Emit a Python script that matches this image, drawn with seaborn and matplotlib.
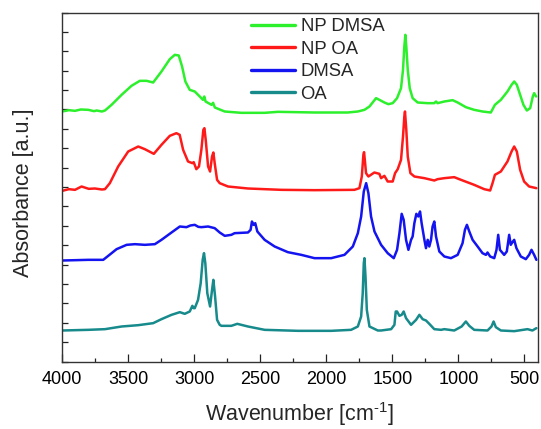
import numpy as np
import pandas as pd
import matplotlib
matplotlib.use('Agg')
import matplotlib.pyplot as plt
import seaborn as sns

series_names = ['NP DMSA', 'NP OA', 'DMSA', 'OA']
series_colors = ['#2bf02b', '#ff1a1a', '#1414f0', '#178a8c']

np_dmsa_wn = [4000, 3950, 3904, 3860, 3803, 3760, 3740, 3700, 3677, 3627, 3551, 3476, 3413, 3362,
              3312, 3249, 3186, 3148, 3118, 3093, 3068, 3035, 2997, 2954, 2935, 2925, 2915, 2870,
              2858, 2845, 2770, 2644, 2468, 2367, 2090, 1838, 1762, 1712, 1674, 1624, 1599, 1561,
              1531, 1498, 1465, 1435, 1420, 1410, 1402, 1395, 1384, 1369, 1347, 1309, 1233, 1183,
              1170, 1158, 1107, 1044, 1006, 944, 881, 818, 755, 724, 679, 629, 598, 578, 558, 533,
              508, 482, 457, 437, 427, 412]
np_dmsa_abs = [750, 754, 752, 756, 755, 751, 753, 750, 753, 770, 800, 827, 842, 842,
               837, 870, 907, 920, 918, 885, 840, 815, 810, 793, 785, 795, 780, 770,
               776, 762, 750, 746, 746, 749, 747, 747, 750, 755, 765, 790, 785, 777,
               772, 775, 790, 820, 875, 945, 980, 945, 875, 820, 790, 777, 775, 775,
               780, 775, 780, 784, 777, 763, 755, 750, 747, 770, 785, 810, 830, 840, 830, 800,
               770, 753, 760, 795, 805, 795]

np_oa_wn = [4000, 3950, 3904, 3854, 3800, 3753, 3700, 3677, 3640, 3577, 3501, 3425, 3375, 3307,
            3249, 3186, 3136, 3111, 3085, 3048, 3015, 3005, 2985, 2965, 2947, 2932, 2924, 2914,
            2896, 2881, 2866, 2856, 2846, 2828, 2808, 2745, 2594, 2342, 2090, 1788, 1750, 1732,
            1720, 1715, 1708, 1700, 1682, 1637, 1599, 1586, 1561, 1536, 1498, 1480, 1460, 1435,
            1420, 1410, 1405, 1395, 1384, 1364, 1334, 1258, 1183, 1158, 1107, 1032, 981, 881,
            805, 760, 742, 724, 679, 629, 598, 578, 558, 533, 503, 465, 410]
np_oa_abs = [512, 517, 515, 525, 518, 519, 516, 517, 535, 585, 630, 645, 637, 623,
             650, 677, 685, 680, 635, 600, 595, 598, 577, 585, 635, 695, 700, 665,
             585, 570, 615, 627, 595, 545, 535, 525, 519, 515, 514, 515, 520, 555,
             620, 628, 600, 565, 555, 567, 563, 550, 557, 540, 540, 565, 577, 605,
             675, 735, 750, 695, 615, 565, 555, 550, 543, 547, 550, 553, 545, 530,
             517, 513, 535, 560, 570, 600, 630, 645, 630, 575, 540, 525, 520]

dmsa_wn = [4000, 3900, 3803, 3690, 3652, 3589, 3513, 3450, 3375, 3299, 3249, 3173, 3110, 3060,
           3030, 2997, 2970, 2947, 2896, 2846, 2808, 2770, 2720, 2695, 2594, 2574, 2564, 2551,
           2539, 2523, 2468, 2392, 2292, 2191, 2090, 1964, 1863, 1800, 1762, 1737, 1717, 1699,
           1682, 1662, 1636, 1586, 1536, 1490, 1465, 1447, 1430, 1415, 1397, 1379, 1359, 1347,
           1334, 1319, 1304, 1291, 1279, 1258, 1246, 1233, 1221, 1208, 1196, 1183, 1170, 1145,
           1107, 1057, 1006, 969, 951, 936, 918, 893, 855, 818, 792, 780, 760, 729, 712, 699,
           686, 654, 634, 616, 604, 588, 578, 561, 528, 490, 465, 447, 427, 410]
dmsa_abs = [303, 304, 305, 305, 317, 337, 350, 352, 350, 352, 365, 387, 405, 403,
            408, 410, 404, 403, 405, 400, 387, 377, 380, 385, 387, 395, 420, 410,
            415, 390, 365, 345, 328, 320, 310, 310, 320, 345, 385, 435, 510, 535,
            505, 435, 390, 350, 325, 310, 335, 385, 443, 425, 365, 335, 365, 375,
            415, 443, 435, 450, 415, 365, 340, 365, 345, 365, 405, 420, 375, 330,
            315, 310, 320, 355, 395, 410, 390, 365, 345, 325, 320, 327, 315, 310, 335, 380,
            335, 320, 330, 380, 350, 360, 365, 340, 315, 307, 320, 335, 320, 305]

oa_wn = [4000, 3803, 3677, 3551, 3425, 3312, 3249, 3173, 3110, 3073, 3035, 3015, 3005, 2997,
         2972, 2952, 2937, 2927, 2917, 2902, 2881, 2866, 2856, 2843, 2828, 2808, 2795, 2720,
         2675, 2594, 2468, 2216, 1964, 1813, 1762, 1737, 1725, 1717, 1712, 1704, 1694, 1674,
         1611, 1586, 1510, 1485, 1475, 1465, 1447, 1430, 1415, 1397, 1359, 1321, 1296, 1271,
         1246, 1221, 1183, 1132, 1107, 1032, 976, 944, 918, 881, 780, 750, 734, 717, 679,
         578, 477, 440, 410]
oa_abs = [93, 95, 97, 105, 109, 115, 127, 140, 148, 143, 150, 167, 160, 160,
          185, 235, 305, 325, 295, 205, 165, 215, 245, 195, 125, 110, 107, 107,
          113, 105, 95, 92, 92, 95, 105, 135, 205, 295, 310, 255, 155, 105,
          93, 93, 97, 110, 150, 150, 137, 140, 150, 130, 110, 125, 140, 127,
          123, 113, 97, 95, 97, 93, 105, 120, 107, 95, 93, 105, 120, 103, 93,
          91, 97, 93, 100]

x_major_ticks = [4000, 3500, 3000, 2500, 2000, 1500, 1000, 500]

sns.set_theme(style='ticks')
plt.rcParams['font.family'] = ['Liberation Sans', 'DejaVu Sans']
plt.rcParams['mathtext.fontset'] = 'custom'
plt.rcParams['mathtext.rm'] = 'Liberation Sans'
plt.rcParams['mathtext.default'] = 'regular'

frames = []
for name, wn, ab in zip(series_names,
                        [np_dmsa_wn, np_oa_wn, dmsa_wn, oa_wn],
                        [np_dmsa_abs, np_oa_abs, dmsa_abs, oa_abs]):
    frames.append(pd.DataFrame({'wn': wn, 'abs': ab, 'sample': name}))
df = pd.concat(frames, ignore_index=True)

fig = plt.figure(figsize=(5.41, 4.29), dpi=100)
ax = fig.add_axes([62.3 / 541, 1 - 361.5 / 429, 475.4 / 541, 349 / 429])

sns.lineplot(data=df, x='wn', y='abs', hue='sample', hue_order=series_names,
             palette=series_colors, sort=False, estimator=None, lw=1.8, ax=ax)

ax.set_xlim(4000, 400)
ax.set_ylim(0, 1047)
ax.set_xticks(x_major_ticks)
ax.set_xticks(np.arange(3750, 400, -500), minor=True)
ax.set_yticks(np.linspace(0, 1047, 19))
ax.set_yticklabels([])
ax.tick_params(axis='x', which='major', direction='in', length=5.5, width=0.9,
               labelsize=13, pad=6.5, colors='#222222', labelcolor='black')
ax.tick_params(axis='x', which='minor', direction='in', length=3, width=0.9, colors='#222222')
ax.tick_params(axis='y', which='major', direction='in', length=4.5, width=0.9, colors='#222222')
for s in ax.spines.values():
    s.set_linewidth(1.0)
    s.set_color('#333333')

ax.set_xlabel(r'Wavenumber [cm$^{\text{-}1}$]', fontsize=15.5)
ax.set_ylabel('Absorbance [a.u.]', fontsize=15.5)
ax.xaxis.set_label_coords(0.5, (361.5 - 400) / 349)
ax.yaxis.set_label_coords(-0.06, 0.484)

handles, labels = ax.get_legend_handles_labels()
leg = ax.legend(handles, labels, frameon=False, loc='upper left',
                bbox_to_anchor=(250.7 / 541, (429 - 18) / 429), bbox_transform=fig.transFigure,
                borderpad=0, borderaxespad=0, handlelength=2.4, handletextpad=0.3,
                labelspacing=0.3, fontsize=13.3)
for ln in leg.get_lines():
    ln.set_linewidth(2.4)

fig.savefig('out.png', dpi=100)
